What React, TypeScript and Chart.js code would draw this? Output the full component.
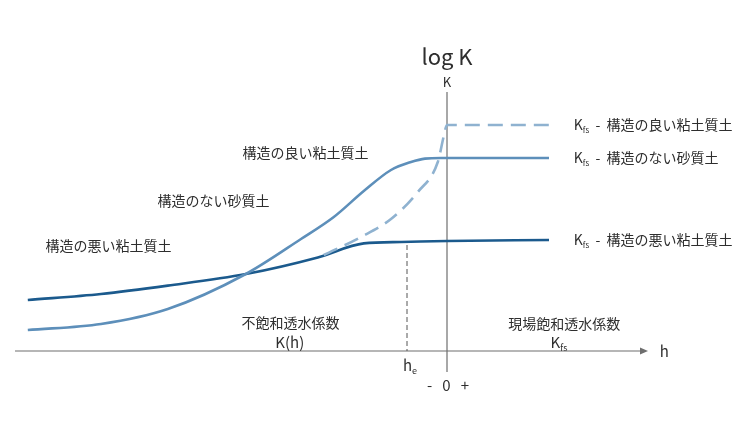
import { useEffect, useRef } from 'react';
import { Chart, registerables } from 'chart.js';

Chart.register(...registerables);

// h: suction head (0 at the K axis, he = -1); log K in arbitrary units
const sandH = [-10.48, -8.65, -6.98, -5.03, -3.65, -2.83, -2.08, -1.4, -0.9, -0.55, -0.15, 2.55];
const sandK = [1.05, 1.35, 2.1, 3.85, 5.6, 6.7, 8.0, 9.05, 9.45, 9.62, 9.65, 9.65];

const poorClayH = [-10.48, -8.65, -6.98, -5.03, -3.23, -2.08, -1.15, 0, 2.55];
const poorClayK = [2.55, 2.85, 3.27, 3.85, 4.68, 5.38, 5.45, 5.5, 5.55];

const goodClayH = [-3.08, -2.15, -1.4, -0.73, -0.23, -0.08, 0, 2.6];
const goodClayK = [4.8, 5.7, 6.6, 7.95, 9.45, 10.75, 11.3, 11.3];

const airEntryH = -1;
const airEntryK = 5.3;

const FONT = '"Noto Sans CJK JP", "Noto Sans", sans-serif';
const TEXT = '#2e2e2e';

const toPoints = (xs: number[], ys: number[]) => xs.map((x, i) => ({ x, y: ys[i] }));

type Part = { t: string; sub?: boolean };

function drawParts(ctx: CanvasRenderingContext2D, parts: Part[], x: number, y: number, size: number, align: 'left' | 'center') {
  const subSize = Math.round(size * 0.6);
  const widths = parts.map((p) => {
    ctx.font = `${p.sub ? subSize : size}px ${FONT}`;
    return ctx.measureText(p.t).width;
  });
  const total = widths.reduce((a, b) => a + b, 0);
  let cx = align === 'center' ? x - total / 2 : x;
  parts.forEach((p, i) => {
    ctx.font = `${p.sub ? subSize : size}px ${FONT}`;
    ctx.textAlign = 'left';
    ctx.textBaseline = 'middle';
    ctx.fillStyle = TEXT;
    ctx.fillText(p.t, cx, p.sub ? y + size * 0.38 : y);
    cx += widths[i];
  });
}

const diagramPlugin = {
  id: 'diagram',
  beforeDatasetsDraw(chart: any) {
    const { ctx, chartArea, scales } = chart;
    const xs = scales.x;
    const ys = scales.y;
    const x0 = xs.getPixelForValue(0);
    const y0 = ys.getPixelForValue(0);
    ctx.save();
    ctx.strokeStyle = '#6e6e6e';
    ctx.lineWidth = 1.2;
    // horizontal h axis with arrow
    ctx.beginPath();
    ctx.moveTo(chartArea.left, y0);
    ctx.lineTo(chartArea.right - 2, y0);
    ctx.stroke();
    ctx.fillStyle = '#6e6e6e';
    ctx.beginPath();
    ctx.moveTo(chartArea.right + 1, y0);
    ctx.lineTo(chartArea.right - 7, y0 - 3.5);
    ctx.lineTo(chartArea.right - 7, y0 + 3.5);
    ctx.closePath();
    ctx.fill();
    // vertical K axis
    ctx.beginPath();
    ctx.moveTo(x0, chartArea.top);
    ctx.lineTo(x0, chartArea.bottom);
    ctx.stroke();
    // air entry dashed line
    const xe = xs.getPixelForValue(airEntryH);
    ctx.strokeStyle = '#555555';
    ctx.lineWidth = 1;
    ctx.setLineDash([5, 3]);
    ctx.beginPath();
    ctx.moveTo(xe, ys.getPixelForValue(airEntryK));
    ctx.lineTo(xe, y0);
    ctx.stroke();
    ctx.restore();
  },
  afterDatasetsDraw(chart: any) {
    const { ctx, scales } = chart;
    const px = (h: number) => scales.x.getPixelForValue(h);
    const py = (k: number) => scales.y.getPixelForValue(k);
    ctx.save();
    drawParts(ctx, [{ t: 'log K' }], px(0), py(14.7), 22, 'center');
    drawParts(ctx, [{ t: 'K' }], px(0), py(13.45), 13, 'center');
    drawParts(ctx, [{ t: '構造の良い粘土質土' }], px(-3.54), py(9.9), 14, 'center');
    drawParts(ctx, [{ t: '構造のない砂質土' }], px(-5.84), py(7.5), 14, 'center');
    drawParts(ctx, [{ t: '構造の悪い粘土質土' }], px(-8.46), py(5.25), 14, 'center');
    drawParts(ctx, [{ t: '不飽和透水係数' }], px(-3.91), py(1.4), 14, 'center');
    drawParts(ctx, [{ t: 'K(h)' }], px(-3.93), py(0.45), 15, 'center');
    drawParts(ctx, [{ t: '現場飽和透水係数' }], px(2.93), py(1.35), 14, 'center');
    drawParts(ctx, [{ t: 'K' }, { t: 'fs', sub: true }], px(2.8), py(0.45), 15, 'center');
    drawParts(ctx, [{ t: 'h' }], px(5.43), py(0), 15, 'center');
    drawParts(ctx, [{ t: 'h' }, { t: 'e', sub: true }], px(airEntryH) + 3, py(-0.7), 15, 'center');
    drawParts(ctx, [{ t: '-   0   +' }], px(0) + 1, py(-1.7), 15, 'center');
    const rx = px(3.17);
    drawParts(ctx, [{ t: 'K' }, { t: 'fs', sub: true }, { t: '  -  構造の良い粘土質土' }], rx, py(11.3), 14, 'left');
    drawParts(ctx, [{ t: 'K' }, { t: 'fs', sub: true }, { t: '  -  構造のない砂質土' }], rx, py(9.65), 14, 'left');
    drawParts(ctx, [{ t: 'K' }, { t: 'fs', sub: true }, { t: '  -  構造の悪い粘土質土' }], rx, py(5.55), 14, 'left');
    ctx.restore();
  },
};

export default function App() {
  const canvasRef = useRef<HTMLCanvasElement>(null);
  const chartRef = useRef<Chart | null>(null);

  useEffect(() => {
    if (!canvasRef.current) return;
    if (chartRef.current) chartRef.current.destroy();

    chartRef.current = new Chart(canvasRef.current, {
      type: 'line',
      data: {
        datasets: [
          {
            label: '構造のない砂質土',
            data: toPoints(sandH, sandK),
            borderColor: '#5d8fba',
            borderWidth: 2.6,
            cubicInterpolationMode: 'monotone',
            pointRadius: 0,
          },
          {
            label: '構造の良い粘土質土',
            data: toPoints(goodClayH, goodClayK),
            borderColor: '#8fb2d0',
            borderWidth: 2.6,
            borderDash: [15, 8],
            cubicInterpolationMode: 'monotone',
            pointRadius: 0,
          },
          {
            label: '構造の悪い粘土質土',
            data: toPoints(poorClayH, poorClayK),
            borderColor: '#1b5a8d',
            borderWidth: 2.6,
            cubicInterpolationMode: 'monotone',
            pointRadius: 0,
          },
        ],
      },
      options: {
        animation: false,
        responsive: true,
        maintainAspectRatio: false,
        layout: { padding: { left: 15, right: 103, top: 92, bottom: 73 } },
        scales: {
          x: { type: 'linear', min: -10.8, max: 5.0, display: false },
          y: { type: 'linear', min: -1.05, max: 12.95, display: false },
        },
        plugins: {
          legend: { display: false },
          tooltip: { enabled: false },
        },
      },
      plugins: [diagramPlugin],
    });

    return () => {
      if (chartRef.current) {
        chartRef.current.destroy();
        chartRef.current = null;
      }
    };
  }, []);

  return (
    <div style={{ position: 'fixed', left: 0, top: 0, width: 750, height: 445, background: '#ffffff' }}>
      <canvas ref={canvasRef} />
    </div>
  );
}
